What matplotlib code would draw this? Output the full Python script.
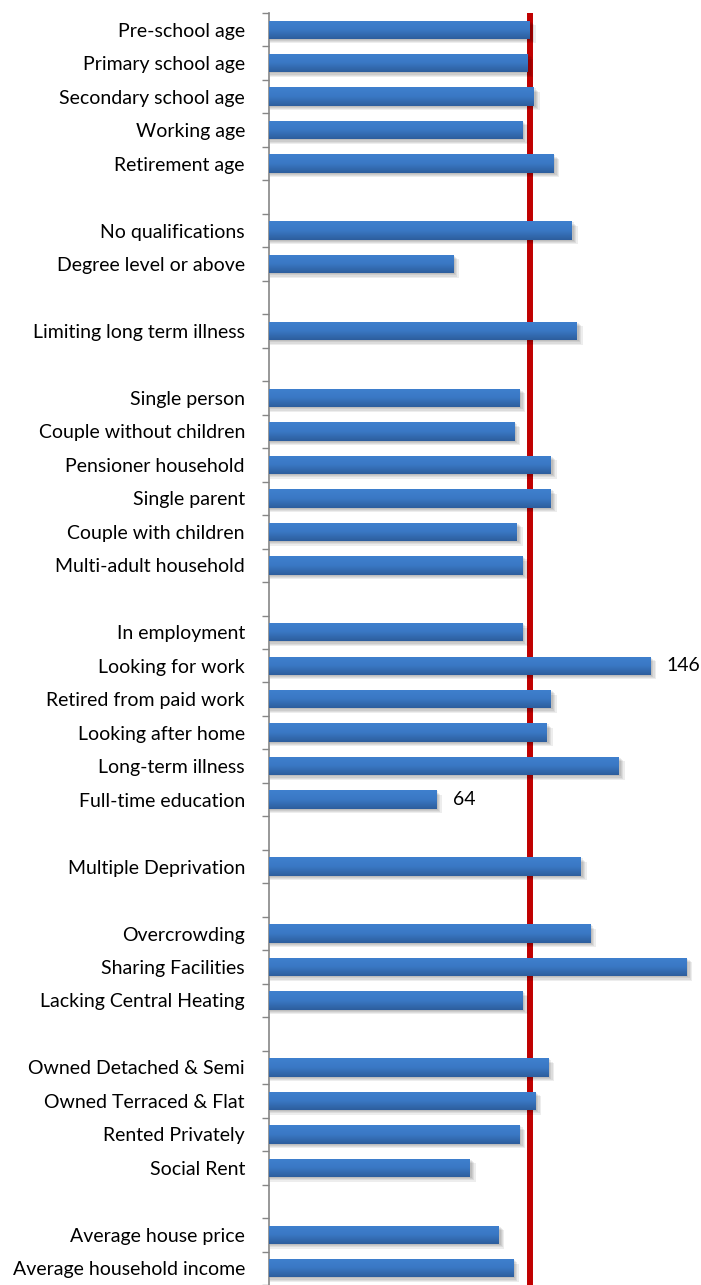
import numpy as np
import matplotlib.pyplot as plt
from matplotlib.colors import LinearSegmentedColormap

# groups of indicators (index, 100 = average)
age_labels = ["Pre-school age", "Primary school age", "Secondary school age", "Working age", "Retirement age"]
age_values = [100, 99, 101.5, 97, 109]

qual_labels = ["No qualifications", "Degree level or above"]
qual_values = [116, 70.5]

health_labels = ["Limiting long term illness"]
health_values = [118]

household_labels = ["Single person", "Couple without children", "Pensioner household",
                    "Single parent", "Couple with children", "Multi-adult household"]
household_values = [96, 94, 108, 108, 95, 97]

work_labels = ["In employment", "Looking for work", "Retired from paid work",
               "Looking after home", "Long-term illness", "Full-time education"]
work_values = [97, 146, 108, 106.5, 134, 64]

depr_labels = ["Multiple Deprivation"]
depr_values = [119.5]

housing_labels = ["Overcrowding", "Sharing Facilities", "Lacking Central Heating"]
housing_values = [123, 160, 97]

tenure_labels = ["Owned Detached & Semi", "Owned Terraced & Flat", "Rented Privately", "Social Rent"]
tenure_values = [107, 102, 96, 77]

money_labels = ["Average house price", "Average household income"]
money_values = [88, 93.5]

# labelled bars
shown = {"Looking for work": "146", "Full-time education": "64"}

groups = [(age_labels, age_values), (qual_labels, qual_values), (health_labels, health_values),
          (household_labels, household_values), (work_labels, work_values),
          (depr_labels, depr_values), (housing_labels, housing_values),
          (tenure_labels, tenure_values), (money_labels, money_values)]

# blank row between each group
labels, values = [], []
for i, (l, v) in enumerate(groups):
    if i > 0:
        labels.append("")
        values.append(None)
    labels += l
    values += v

n = len(labels)
ypos = np.arange(n)

plt.rcParams['font.family'] = ['Lato', 'DejaVu Sans']

fig = plt.figure(figsize=(7.01, 12.85), dpi=100)
px = 2.61  # pixels per unit
x0 = 268.5
xmax = 165
ax = fig.add_axes([x0 / 701, 0, xmax * px / 701, (1285 - 13) / 1285])

bar_h = 0.55
grad = np.linspace(0, 1, 50).reshape(-1, 1)
cmap = LinearSegmentedColormap.from_list("bar", ["#3F80CE", "#3A78C4", "#2D5E9D"])

for y, v, lab in zip(ypos, values, labels):
    if v is None:
        continue
    # soft shadow
    for k in range(4):
        d = 0.03 + 0.035 * k
        ax.barh(y + d, v + 0.4 + 0.5 * k, height=bar_h, left=0.5,
                color="#000000", alpha=0.07, lw=0, zorder=1)
    b = ax.barh(y, v, height=bar_h, left=0, color="#3A77C2", lw=0, zorder=2)[0]
    im = ax.imshow(grad, extent=[0, v, y + bar_h / 2, y - bar_h / 2], cmap=cmap,
                   aspect='auto', zorder=3)
    im.set_clip_path(b)
    if lab in shown:
        ax.text(v + 6.5, y, shown[lab], va='center', ha='left', fontsize=14, color="#000000")

ax.axvline(100, color="#C00000", lw=4.3, zorder=0.5)

ax.set_xlim(0, xmax)
ax.set_ylim(n - 0.5, -0.5)
ax.set_yticks(ypos)
ax.set_yticklabels(labels, fontsize=14)
ax.set_yticks(np.arange(-0.5, n, 1), minor=True)
ax.tick_params(axis='y', which='major', length=0, pad=17)
ax.tick_params(axis='y', which='minor', length=5, color="#868686", width=1)
ax.set_xticks([])
for s in ['top', 'right', 'bottom']:
    ax.spines[s].set_visible(False)
ax.spines['left'].set_color("#868686")
ax.spines['left'].set_linewidth(1.2)

fig.savefig("out.png", dpi=100)
